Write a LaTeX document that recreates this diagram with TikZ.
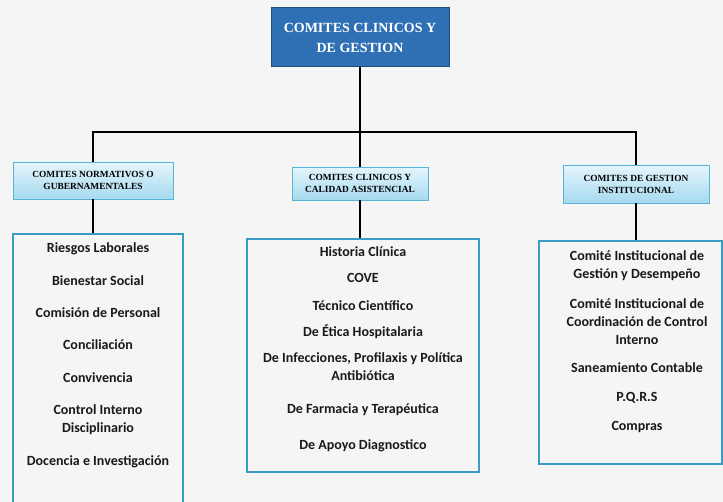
\documentclass[tikz,border=0pt]{standalone}
\usepackage{fontspec}
\setmainfont{Liberation Serif}
\newfontfamily\itemfont{Carlito}
\usetikzlibrary{positioning,shadows}
\definecolor{rootblue}{HTML}{2F70B5}
\definecolor{rootedge}{HTML}{1F4E79}
\definecolor{headedge}{HTML}{5AB4D6}
\definecolor{headtop}{HTML}{E4F5FC}
\definecolor{headbot}{HTML}{A6DAF0}
\definecolor{listedge}{HTML}{3A9CC2}
\tikzset{rootbox/.style={draw=rootedge, line width=1pt, fill=rootblue, text=white, align=center,
    font=\bfseries\fontsize{14}{20}\selectfont, minimum width=178pt, minimum height=59pt}}
\tikzset{headbox/.style={draw=headedge, line width=0.8pt, top color=headtop, bottom color=headbot,
    align=center, inner sep=2pt, font=\bfseries\fontsize{9.4}{12}\selectfont,
    drop shadow={opacity=0.2, shadow xshift=1pt, shadow yshift=-1.5pt}}}
\tikzset{listbox/.style={draw=listedge, line width=1.6pt, anchor=north}}
\tikzset{item/.style={align=center, text=black!90, font=\itemfont\bfseries\fontsize{14}{18}\selectfont}}
\tikzset{conn/.style={line width=2.8pt, black}}

\begin{document}
\begin{tikzpicture}[x=1pt,y=-1pt]
    \fill[black!4] (0,0) rectangle (723,502);
    \useasboundingbox (0,0) rectangle (723,502);
    % top and second level
    \node[rootbox] (root) at (360,37.5) {COMITES CLINICOS Y\\DE GESTION};
    \node[headbox, minimum width=160pt, minimum height=37pt] (hdnorm) at (93,180.5) {COMITES NORMATIVOS O\\GUBERNAMENTALES};
    \node[headbox, minimum width=136pt, minimum height=33pt] (hdclin) at (360,183.5) {COMITES CLINICOS Y\\CALIDAD ASISTENCIAL};
    \node[headbox, minimum width=146pt, minimum height=38pt] (hdinst) at (636,184) {COMITES DE GESTION\\INSTITUCIONAL};
    % list boxes
    \node[listbox, minimum width=170pt, minimum height=272pt] (normlist) at (98,233) {};
    \node[listbox, minimum width=232pt, minimum height=233pt] (clinlist) at (363,238) {};
    \node[listbox, minimum width=183pt, minimum height=223pt] (instlist) at (630.5,240) {};
    % connectors
    \coordinate (bar) at (360,132);
    \draw[conn] (root.south) -- (hdclin.north);
    \draw[conn] (hdnorm.north) |- (bar) -| (hdinst.north);
    \draw[conn] (hdnorm.south) -- (hdnorm.south |- normlist.north);
    \draw[conn] (hdclin.south) -- (hdclin.south |- clinlist.north);
    \draw[conn] (hdinst.south) -- (hdinst.south |- instlist.north);
    % items
    \foreach \y/\txt [count=\i] in {249/Riesgos Laborales, 281/Bienestar Social, 313/Comisión de Personal,
        345/Conciliación, 378/Convivencia, 420/{Control Interno\\Disciplinario}, 462/Docencia e Investigación}
      \node[item] (norm\i) at (98,\y) {\txt};
    \foreach \y/\txt [count=\i] in {252/Historia Clínica, 278/COVE, 306/Técnico Científico, 332/De Ética Hospitalaria,
        366.5/{De Infecciones, Profilaxis y Política\\Antibiótica}, 410/De Farmacia y Terapéutica, 446/De Apoyo Diagnostico}
      \node[item] (clin\i) at (363,\y) {\txt};
    \foreach \y/\txt [count=\i] in {266/{Comité Institucional de\\Gestión y Desempeño},
        321.5/{Comité Institucional de\\Coordinación de Control\\Interno}, 368/Saneamiento Contable, 398/P.Q.R.S, 427/Compras}
      \node[item] (inst\i) at (637,\y) {\txt};
\end{tikzpicture}
\end{document}
